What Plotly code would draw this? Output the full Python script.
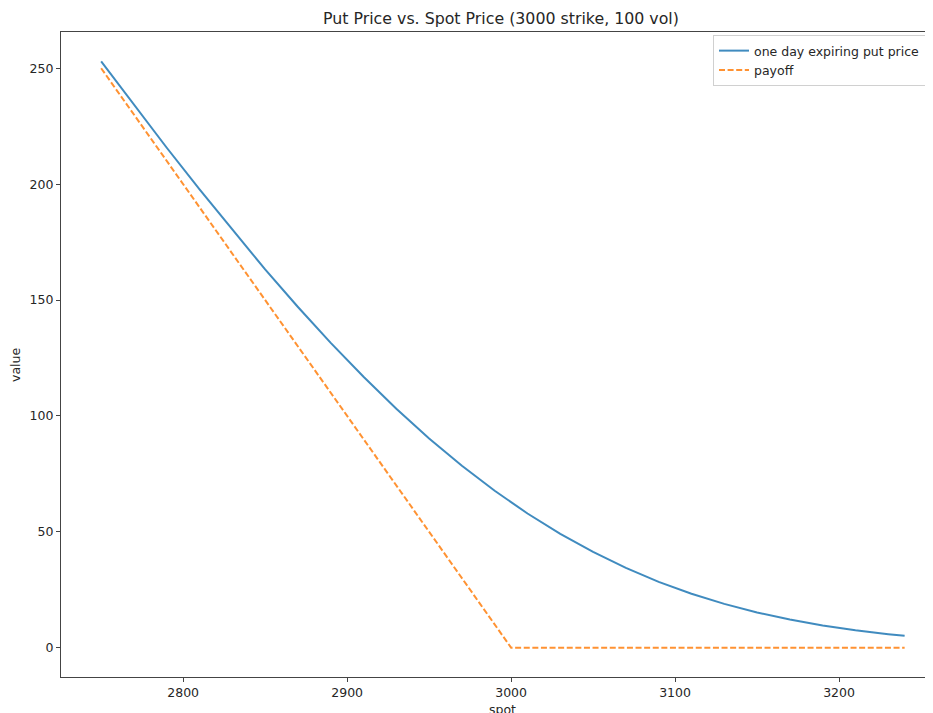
import plotly.graph_objects as go

# Spot prices (x) for the option price curve
spot = [2750, 2770, 2790, 2810, 2830, 2850, 2870, 2890, 2910, 2930, 2950, 2970,
        2990, 3000, 3010, 3030, 3050, 3070, 3090, 3110, 3130, 3150, 3170, 3190,
        3210, 3230, 3240]
# One day expiring put price
put_price = [253.0, 234.2, 215.7, 197.7, 180.2, 163.2, 147.0, 131.5, 116.9, 103.1,
             90.3, 78.5, 67.7, 62.7, 57.9, 49.1, 41.3, 34.4, 28.4, 23.3, 18.9,
             15.2, 12.2, 9.6, 7.5, 5.8, 5.1]
# Payoff line
payoff_spot = [2750, 3000, 3240]
payoff_value = [250, 0, 0]

x_ticks = [2800, 2900, 3000, 3100, 3200]
y_ticks = [0, 50, 100, 150, 200, 250]

title_text = "Put Price vs. Spot Price (3000 strike, 100 vol)"
FONT = "DejaVu Sans"
TXT = "#262626"

fig = go.Figure()
fig.add_trace(go.Scatter(x=spot, y=put_price, mode="lines",
                         name="one day expiring put price",
                         line=dict(color="rgba(31,119,180,0.85)", width=2)))
fig.add_trace(go.Scatter(x=payoff_spot, y=payoff_value, mode="lines",
                         name="payoff",
                         line=dict(color="rgba(255,127,14,0.85)", width=2, dash="6px,2.6px")))

axis_common = dict(showgrid=False, zeroline=False, showline=True, linecolor="#444",
                   linewidth=1.3, ticks="outside", ticklen=4, tickwidth=1.1,
                   tickcolor="#444", tickfont=dict(family=FONT, size=12.5, color=TXT))

# page body has an 8px offset; plot area spans x 61..933, y 32..677 in the window
fig.update_layout(
    width=925, height=705,
    margin=dict(l=53, r=0, t=24, b=36, autoexpand=False),
    paper_bgcolor="white", plot_bgcolor="white",
    font=dict(family=FONT, size=12.5, color=TXT),
    showlegend=True,
    legend=dict(x=(713 - 61) / 872, y=(677 - 35) / 645, xanchor="left", yanchor="top",
                bgcolor="rgba(255,255,255,0.9)", bordercolor="#d0d0d0", borderwidth=1,
                font=dict(family=FONT, size=12.5, color=TXT), tracegroupgap=0),
    xaxis=dict(range=[2725.5, 3257.3], tickvals=x_ticks, mirror=True, **axis_common),
    yaxis=dict(range=[-12.65, 265.65], tickvals=y_ticks, mirror=False, **axis_common),
)

fig.add_annotation(text=title_text, xref="paper", yref="paper",
                   x=(501 - 61) / 872, y=1, yshift=2, xanchor="center", yanchor="bottom",
                   showarrow=False, font=dict(family=FONT, size=15.8, color=TXT))
fig.add_annotation(text="spot", xref="paper", yref="paper",
                   x=(502 - 61) / 872, y=0, yshift=-23, xanchor="center", yanchor="top",
                   showarrow=False, font=dict(family=FONT, size=12.5, color=TXT))
fig.add_annotation(text="value", xref="paper", yref="paper",
                   x=0, xshift=-46, y=(677 - 365) / 645, xanchor="center", yanchor="middle",
                   textangle=-90, showarrow=False, font=dict(family=FONT, size=12.5, color=TXT))

fig.write_html("out.html")
